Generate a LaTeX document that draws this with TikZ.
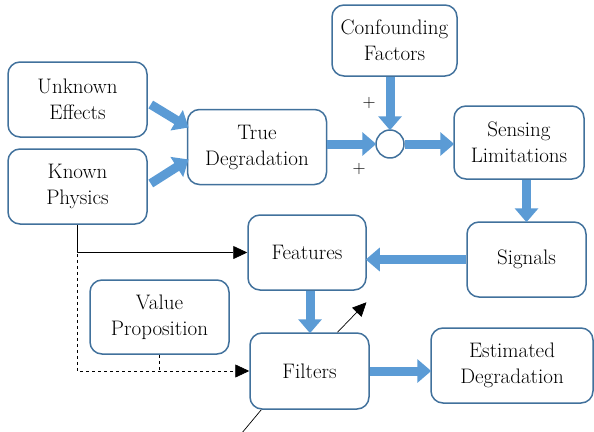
\documentclass[tikz,border=0pt]{standalone}
\usetikzlibrary{arrows.meta}
\usetikzlibrary{calc}

\definecolor{boxline}{HTML}{41719C}
\definecolor{flowblue}{HTML}{5B9BD5}

\tikzset{
  blockbox/.style={draw=boxline,line width=1.5pt,rounded corners=12pt,fill=white,
    align=center,inner sep=0pt,font=\rmfamily\fontsize{21}{26}\selectfont},
  flow/.style={draw=flowblue,line width=9pt,-{Triangle[length=14pt,width=23pt]},shorten >=-1pt},
  thinarrow/.style={line width=0.7pt,-{Triangle[length=14pt,width=13pt]}}
}

\begin{document}
\begin{tikzpicture}[line cap=butt,line join=round,x=1pt,y=-1pt]
\useasboundingbox (0,0) rectangle (594,431);
\node[blockbox,minimum width=139pt,minimum height=75pt] (unknown) at (77.5,99.5) {Unknown\\Effects};
\node[blockbox,minimum width=139pt,minimum height=75pt] (known) at (77.5,186.5) {Known\\Physics};
\node[blockbox,minimum width=139pt,minimum height=75pt] (truedeg) at (257,147) {True\\Degradation};
\node[blockbox,minimum width=125pt,minimum height=71pt] (confound) at (394.5,40.5) {Confounding\\Factors};
\node[draw=boxline,line width=1.5pt,circle,minimum size=28pt,inner sep=0pt] (sum) at (390,144) {};
\node[blockbox,minimum width=130pt,minimum height=73pt] (sensing) at (519,142.5) {Sensing\\Limitations};
\node[blockbox,minimum width=119pt,minimum height=75pt] (signals) at (526.5,259.5) {Signals};
\node[blockbox,minimum width=118pt,minimum height=75pt] (features) at (307,252.5) {Features};
\node[blockbox,minimum width=119pt,minimum height=76pt] (filters) at (309.5,371) {Filters};
\node[blockbox,minimum width=139pt,minimum height=74pt] (value) at (159.5,317) {Value\\Proposition};
\node[blockbox,minimum width=162pt,minimum height=75pt] (estdeg) at (512,365.5) {Estimated\\Degradation};
\node[font=\fontsize{18}{18}\selectfont] (plusup) at (369,103) {+};
\node[font=\fontsize{18}{18}\selectfont] (plusdown) at (359,169) {+};
% blue flow
\draw[flow] ($(unknown.east)+(3,5)$) -- ($(truedeg.west)+(1,-20)$);
\draw[flow] ($(known.east)+(3,-3)$) -- ($(truedeg.west)+(1,13)$);
\draw[flow] ($(truedeg.east)+(0,-3)$) -- (sum.west);
\draw[flow] (confound.south -| sum) -- (sum.north);
\draw[flow] (sum.east) -- (sensing.west |- sum);
\draw[flow] (signals.north |- sensing.south) -- (signals.north);
\draw[flow] (signals.west) -- (features.east |- signals.west);
\draw[flow] ($(features.south)+(3,0)$) -- ($(features.south |- filters.north)+(3,0)$);
\draw[flow] (filters.east) -- (estdeg.west |- filters.east);
% thin links
\coordinate (branch) at ($(known.south)+(0,29)$);
\draw[thinarrow] (known.south) |- (features.west);
\draw[thinarrow,dashed] (branch) |- (filters.west);
\draw[line width=0.7pt,dashed] (value.south) -- (value.south |- filters.west);
\coordinate (outtop) at ($(filters.north)+(57,-30)$);
\draw[thinarrow] ($(filters.north)+(28,0)$) -- (outtop);
\coordinate (outbottom) at ($(filters.south west)+(-8,24)$);
\draw[line width=0.7pt] ($(filters.south west)+(12,0)$) -- (outbottom);
\end{tikzpicture}
\end{document}
